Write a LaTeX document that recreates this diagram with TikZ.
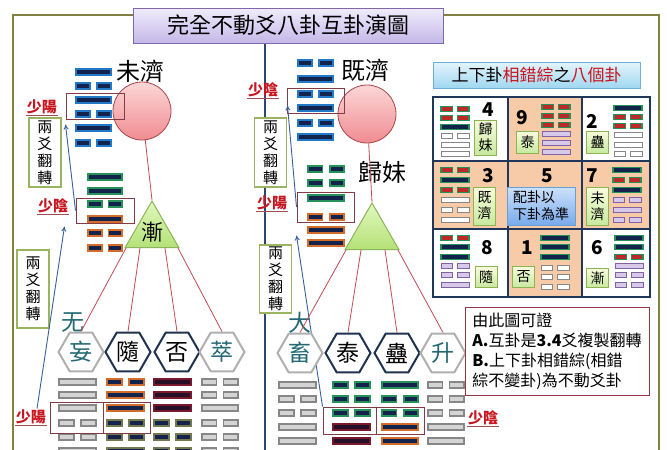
\documentclass[tikz,border=0pt]{standalone}
\usepackage{fontspec}
\setmainfont{Noto Sans CJK TC}
\usetikzlibrary{shapes.geometric,arrows.meta}

\definecolor{frameolive}{RGB}{128,128,64}
\definecolor{divblue}{RGB}{40,70,120}
\definecolor{navyin}{RGB}{20,35,75}
\definecolor{darkin}{RGB}{40,15,40}
\definecolor{barblue}{RGB}{35,120,200}
\definecolor{bargreen}{RGB}{40,145,90}
\definecolor{barorange}{RGB}{210,110,45}
\definecolor{bardred}{RGB}{120,25,45}
\definecolor{barolive}{RGB}{115,120,80}
\definecolor{bargray}{RGB}{135,135,135}
\definecolor{fillgray}{RGB}{212,212,212}
\definecolor{brokred}{RGB}{190,40,40}
\definecolor{lavline}{RGB}{128,100,162}
\definecolor{lavfill}{RGB}{216,200,234}
\definecolor{peach}{RGB}{247,203,168}
\definecolor{gridnavy}{RGB}{30,55,90}
\definecolor{linered}{RGB}{195,75,85}
\definecolor{arrblue}{RGB}{55,95,155}
\definecolor{labred}{RGB}{200,20,30}
\definecolor{tealtxt}{RGB}{35,105,115}
\definecolor{hexdark}{RGB}{30,50,80}
\definecolor{hexgray}{RGB}{175,175,175}
\definecolor{boxgreen}{RGB}{155,180,95}
\definecolor{boxred}{RGB}{130,60,70}
\definecolor{titletop}{RGB}{240,236,252}
\definecolor{titlebot}{RGB}{196,184,232}
\definecolor{titleline}{RGB}{125,105,170}
\definecolor{headtop}{RGB}{228,245,252}
\definecolor{headbot}{RGB}{160,215,240}
\definecolor{headline}{RGB}{110,175,215}
\definecolor{cfgtop}{RGB}{205,225,250}
\definecolor{cfgbot}{RGB}{120,170,235}
\definecolor{labtop}{RGB}{248,252,220}
\definecolor{labbot}{RGB}{200,232,160}
\definecolor{labline}{RGB}{140,180,80}
\definecolor{tritop}{RGB}{225,248,190}
\definecolor{tribot}{RGB}{180,225,120}
\definecolor{triline}{RGB}{140,180,90}
\definecolor{circtop}{RGB}{252,215,215}
\definecolor{circbot}{RGB}{240,140,145}
\definecolor{circline}{RGB}{170,70,75}
\definecolor{noteline}{RGB}{150,55,65}

% one trigram or hexagram: x, width, bar height, style, list y/type (1 = solid)
\newcommand\gua[5]{%
  \foreach \yy/\kk in {#5}{%
    \ifnum\kk=1
      \draw[#4] (#1,\yy-#3/2) rectangle ++(#2,#3);
    \else
      \draw[#4,half] (#1,\yy-#3/2) rectangle ++(0.4*#2,#3);
      \draw[#4,half] (#1+0.6*#2,\yy-#3/2) rectangle ++(0.4*#2,#3);
    \fi}}

\begin{document}
\begin{tikzpicture}[x=1pt,y=-1pt,>={To[length=5pt,width=5pt]},
  half/.style={},
  blu/.style={draw=barblue,fill=navyin,line width=1.8pt},
  grn/.style={draw=bargreen,fill=navyin,line width=1.8pt},
  org/.style={draw=barorange,fill=navyin,line width=1.8pt},
  drd/.style={draw=bardred,fill=darkin,line width=1.8pt},
  olv/.style={draw=barolive,fill=navyin,line width=1.8pt},
  gry/.style={draw=bargray,fill=fillgray,line width=1.5pt},
  sg/.style={draw=bargreen,fill=navyin,line width=1.2pt,half/.style={fill=brokred}},
  sw/.style={draw=bargray,fill=white,line width=1pt},
  sl/.style={draw=lavline,fill=lavfill,line width=1pt},
  bigtxt/.style={inner sep=0pt,font=\fontsize{24pt}{24pt}\selectfont},
  shao/.style={inner sep=1pt,text=labred,font=\bfseries\fontsize{15pt}{15pt}\selectfont},
  uline/.style={draw=labred!45!gray,line width=1pt},
  yaobox/.style={draw=boxred,line width=1pt,inner sep=0pt},
  flipbox/.style={draw=boxgreen,line width=1.3pt,fill=white,align=center,inner sep=1pt,
    minimum width=32pt,font=\fontsize{15pt}{17pt}\selectfont},
  redball/.style={circle,minimum size=58pt,draw=circline,line width=0.8pt,
    top color=circtop,bottom color=circbot},
  tri/.style={regular polygon,regular polygon sides=3,minimum size=62pt,inner sep=0pt,
    draw=triline,line width=1pt,top color=tritop,bottom color=tribot},
  hexg/.style={regular polygon,regular polygon sides=6,minimum size=45pt,inner sep=0pt,
    line width=2pt,draw=hexgray,fill=white,text=tealtxt,font=\fontsize{23pt}{23pt}\selectfont},
  hexd/.style={hexg,draw=hexdark,text=black},
  redln/.style={draw=linered,line width=0.8pt},
  arrln/.style={->,draw=arrblue,line width=0.9pt},
  numtxt/.style={inner sep=0pt,font=\bfseries\fontsize{19pt}{19pt}\selectfont},
  glab/.style={draw=labline,line width=0.8pt,top color=labtop,bottom color=labbot,
    inner sep=1pt,minimum width=22pt,align=center,font=\fontsize{14pt}{16pt}\selectfont},
]
\useasboundingbox (0,0) rectangle (667,450);

% frame, divider, title
\draw[frameolive,line width=1.5pt] (13,15) rectangle (659,470);
\draw[divblue,line width=1.5pt] (265,43) -- (265,470);
\node[draw=titleline,line width=1pt,top color=titletop,bottom color=titlebot,
  minimum width=310pt,minimum height=35pt,font=\fontsize{22pt}{22pt}\selectfont]
  (title) at (288,25.5) {完全不動爻八卦互卦演圖};

% upper hexagrams
\gua{76}{35}{6}{blu}{72/1,86/0,100/1,114/0,128/1,143/0}
\gua{88}{34}{6}{grn}{177/1,191/1,204/0}
\gua{88}{34}{6}{org}{219/1,233/0,248/0}
\gua{298}{35}{6}{blu}{63/0,79/1,94/0,108/1,123/0,137/1}
\gua{308}{36}{6}{grn}{169/0,183/0,198/1}
\gua{308}{36}{6}{org}{217/0,230/1,243/1}

% lower hexagrams
\gua{59}{37}{6}{gry}{382/1,395/1,408/1,423/0,437/0,451/1}
\gua{107}{37}{6}{org}{382/0,395/1,408/1}
\gua{107}{37}{6}{olv}{423/0,437/0,451/1}
\gua{154}{37}{6}{drd}{382/1,395/1,408/1}
\gua{154}{37}{6}{olv}{423/0,437/0,451/0}
\gua{202}{36}{6}{gry}{382/0,395/0,408/1,423/0,437/0,451/0}
\gua{279}{37}{6}{gry}{385/1,399/0,413/0,427/1,441/1,455/1}
\gua{333}{37}{6}{grn}{385/0,399/0,413/0}
\gua{333}{37}{6}{drd}{427/1,441/1,455/1}
\gua{382}{36}{6}{grn}{385/1,399/0,413/0}
\gua{382}{36}{6}{org}{427/1,441/1,455/0}
\gua{428}{36}{6}{gry}{385/0,399/0,413/0,427/1,441/1,455/0}

% names, balls, triangles
\node[bigtxt] (wj) at (140,71) {未濟};
\node[bigtxt] (jj) at (365,70) {既濟};
\node[bigtxt] (gm) at (382,172) {歸妹};
\node[redball] (c1) at (142,111) {};
\node[redball] (c2) at (367,114) {};
\node[tri,label={[font=\fontsize{22pt}{22pt}\selectfont]center:漸}] (t1) at (152,232) {};
\node[tri] (t2) at (372,234) {};

% yao boxes
\node[yaobox,minimum width=58pt,minimum height=26pt] (b1) at (95,106) {};
\node[yaobox,minimum width=58pt,minimum height=25pt] (b2) at (105,210.5) {};
\node[yaobox,minimum width=53pt,minimum height=31pt] (b3a) at (76.5,417.5) {};
\node[yaobox,minimum width=47pt,minimum height=31pt] (b3b) at (126.5,417.5) {};
\node[yaobox,minimum width=57pt,minimum height=25pt] (rb1) at (315.5,100.5) {};
\node[yaobox,minimum width=57pt,minimum height=30pt] (rb2) at (325.5,207) {};
\node[yaobox,minimum width=53pt,minimum height=27pt] (rb3a) at (349.5,420.5) {};
\node[yaobox,minimum width=48pt,minimum height=27pt] (rb3b) at (400,420.5) {};

% shaoyang / shaoyin
\node[shao] (ly1) at (42,107) {少陽};
\node[shao] (ly2) at (53,206) {少陰};
\node[shao] (ly3) at (31,417) {少陽};
\node[shao] (ry1) at (263,90) {少陰};
\node[shao] (ry2) at (272,203) {少陽};
\node[shao] (ry3) at (483,418) {少陰};
\draw[uline] (ly1.south west) -- (ly1.south east);
\draw[uline] (ly2.south west) -- (ly2.south east);
\draw[uline] (ly3.south west) -- (ly3.south east);
\draw[uline] (ry1.south west) -- (ry1.south east);
\draw[uline] (ry2.south west) -- (ry2.south east);
\draw[uline] (ry3.south west) -- (ry3.south east);

\node[flipbox,minimum height=69pt] (f1) at (45,152.5) {兩\\爻\\翻\\轉};
\node[flipbox,minimum height=78pt] (f2) at (33,289) {兩\\爻\\翻\\轉};
\node[flipbox,minimum height=69pt] (f3) at (270.5,152.5) {兩\\爻\\翻\\轉};
\node[flipbox,minimum height=68pt] (f4) at (275.5,279) {兩\\爻\\翻\\轉};

% arrows
\draw[arrln] (b2.west) -- ([yshift=-5pt]b1.south west);
\draw[arrln] ([xshift=6pt]ly3.north) -- ([xshift=-11pt,yshift=-3pt]b2.south west);
\draw[arrln] (rb2.west) -- ([xshift=1pt,yshift=8pt]rb1.south west);
\draw[arrln] (rb3a.north west) -- ([yshift=-13pt]rb2.south west);

% hexagons
\node[hexg,label={[text=tealtxt,font=\fontsize{23pt}{23pt}\selectfont,label distance=-4pt,xshift=-8pt]above:无}] (h1) at (81,352) {妄};
\node[hexd] (h2) at (128,352) {隨};
\node[hexd] (h3) at (177,352) {否};
\node[hexg] (h4) at (222,352) {萃};
\node[hexg,label={[text=tealtxt,font=\fontsize{23pt}{23pt}\selectfont,label distance=-4pt]above:大}] (h5) at (300,353) {畜};
\node[hexd] (h6) at (348,353) {泰};
\node[hexd] (h7) at (397,353) {蠱};
\node[hexg] (h8) at (443,353) {升};

% red links
\draw[redln] (c1) -- (t1.north);
\draw[redln] (c2) -- (t2.north);
\draw[redln] ([xshift=-26pt]t1.south) -- (h1.north);
\draw[redln] ([xshift=-12pt]t1.south) -- (h2.north);
\draw[redln] ([xshift=13pt]t1.south) -- (h3.north);
\draw[redln] ([xshift=26pt]t1.south) -- (h4.north);
\draw[redln] ([xshift=-26pt]t2.south) -- (h5.north);
\draw[redln] ([xshift=-11pt]t2.south) -- (h6.north);
\draw[redln] ([xshift=13pt]t2.south) -- (h7.north);
\draw[redln] ([xshift=26pt]t2.south) -- (h8.north);

% right panel
\node[draw=headline,line width=1pt,top color=headtop,bottom color=headbot,
  minimum width=207pt,minimum height=26pt,font=\fontsize{17pt}{17pt}\selectfont]
  (head) at (536.5,75) {上下卦\textcolor{labred}{相錯綜}之\textcolor{labred}{八個卦}};
\fill[white] (433,97) rectangle (650,297);
\fill[peach] (508,97) rectangle (582,161);
\fill[peach] (433,161) rectangle (650,229);
\fill[peach] (508,229) rectangle (582,297);
\draw[gridnavy,line width=1.6pt] (433,97) rectangle (650,297)
  (508,97) -- (508,297) (582,97) -- (582,297)
  (433,161) -- (650,161) (433,229) -- (650,229);

\gua{441}{28}{4.5}{sg}{109/0,118/0,127/1}
\gua{441}{28}{4.5}{sw}{136/0,145/1,154/1}
\gua{542}{28}{4.5}{sg}{107/0,116/0,125/0}
\gua{542}{28}{4.5}{sl}{134/1,143/1,152/1}
\gua{614}{28}{4.5}{sg}{108/1,117/0,126/0}
\gua{614}{28}{4.5}{sw}{135/1,145/1,154/0}
\gua{441}{28}{4.5}{sg}{170/0,180/1,190/0}
\gua{441}{28}{4.5}{sw}{200/1,210/0,220/1}
\gua{613}{28}{4.5}{sg}{170/1,180/0,190/1}
\gua{613}{28}{4.5}{sl}{200/0,210/1,220/0}
\gua{441}{28}{4.5}{sg}{238/0,247/1,257/1}
\gua{441}{28}{4.5}{sl}{266/0,275/0,285/1}
\gua{541}{28}{4.5}{sg}{238/1,247/1,257/1}
\gua{541}{28}{4.5}{sw}{268/0,277/0,287/0}
\gua{615}{28}{4.5}{sg}{238/1,247/1,257/0}
\gua{615}{28}{4.5}{sl}{266/1,275/0,285/0}

\node[numtxt] (n4) at (488,110) {4};
\node[numtxt] (n9) at (522,118) {9};
\node[numtxt] (n2) at (592,121) {2};
\node[numtxt] (n3) at (488,176) {3};
\node[numtxt] (n5) at (547,176) {5};
\node[numtxt] (n7) at (592,176) {7};
\node[numtxt] (n8) at (487,248) {8};
\node[numtxt] (n1) at (527,248) {1};
\node[numtxt] (n6) at (597,248) {6};

\node[glab,minimum height=35pt] (g4) at (485.5,137.5) {歸\\妹};
\node[glab,minimum height=22pt] (g9) at (527.5,142) {泰};
\node[glab,minimum height=22pt] (g2) at (597.5,142) {蠱};
\node[glab,minimum height=38pt] (g3) at (484.5,206) {既\\濟};
\node[glab,minimum height=38pt] (g7) at (597.5,206) {未\\濟};
\node[glab,minimum height=21pt] (g8) at (486,277) {隨};
\node[glab,minimum height=21pt] (g1) at (523.5,277) {否};
\node[glab,minimum height=19pt] (g6) at (597.5,278) {漸};

\node[draw=barblue!70,line width=0.8pt,top color=cfgtop,bottom color=cfgbot,
  minimum width=68pt,minimum height=38pt,inner sep=1pt,align=left,
  font=\fontsize{14pt}{17pt}\selectfont] (cfg) at (541,206) {配卦以\\下卦為準};

\node[draw=noteline,line width=1pt,fill=white,minimum width=184pt,minimum height=88pt,
  inner sep=2pt,align=left,font=\fontsize{16pt}{20pt}\selectfont] (note) at (557,351)
  {由此圖可證\\\textbf{A.}互卦是\textbf{3.4}爻複製翻轉\\\textbf{B.}上下卦相錯綜(相錯\\綜不變卦)為不動爻卦};
\end{tikzpicture}
\end{document}
